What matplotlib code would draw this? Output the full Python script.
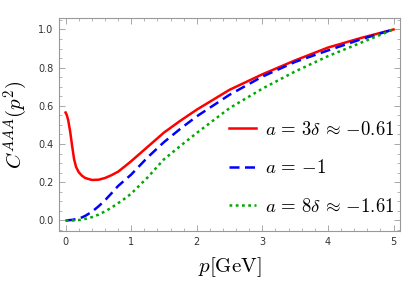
import matplotlib
matplotlib.use("Agg")
import matplotlib.pyplot as plt
from matplotlib.ticker import MultipleLocator

plt.rcParams["mathtext.fontset"] = "cm"

# momentum grid (GeV)
p = [0.0, 0.02, 0.04, 0.07, 0.1, 0.13, 0.16, 0.2, 0.25, 0.3, 0.4, 0.5, 0.6,
     0.7, 0.8, 0.9, 1.0, 1.25, 1.5, 1.75, 2.0, 2.5, 3.0, 3.5, 4.0, 4.5, 5.0]

# C^AAA(p^2) for the three values of a
c_red = [0.565, 0.55, 0.525, 0.465, 0.39, 0.32, 0.28, 0.253, 0.234, 0.222,
         0.212, 0.213, 0.222, 0.237, 0.255, 0.282, 0.31, 0.385, 0.46, 0.522,
         0.58, 0.684, 0.765, 0.838, 0.905, 0.955, 1.0]
c_blue = [0.0, 0.0, 0.001, 0.002, 0.003, 0.005, 0.007, 0.01, 0.016, 0.024,
          0.045, 0.073, 0.105, 0.142, 0.18, 0.21, 0.24, 0.33, 0.41, 0.48,
          0.545, 0.658, 0.753, 0.83, 0.89, 0.948, 1.0]
c_green = [0.0, 0.0, 0.0, 0.0, 0.0, 0.0, 0.001, 0.002, 0.004, 0.008, 0.017,
           0.03, 0.047, 0.067, 0.09, 0.114, 0.14, 0.225, 0.32, 0.39, 0.458,
           0.588, 0.69, 0.78, 0.86, 0.93, 1.0]

labels = [r"$a\,=\,3\delta\,\approx\,{-}0.61$", r"$a\,=\,{-}1$",
          r"$a\,=\,8\delta\,\approx\,{-}1.61$"]

fig = plt.figure(figsize=(4.07, 2.90), dpi=100)
ax = fig.add_axes([0.145, 0.203, 0.838, 0.735])

ax.plot(p, c_red, color="#ff0000", lw=1.8, label=labels[0])
ax.plot(p, c_blue, color="#0000ff", lw=1.8, ls=(0, (4, 2.2)), label=labels[1])
ax.plot(p, c_green, color="#00aa00", lw=1.8, ls=(0, (1.1, 1.4)), label=labels[2])

ax.set_xlim(-0.1, 5.1)
ax.set_ylim(-0.056, 1.06)

ax.xaxis.set_major_locator(MultipleLocator(1))
ax.xaxis.set_minor_locator(MultipleLocator(0.2))
ax.yaxis.set_minor_locator(MultipleLocator(0.05))
ax.set_yticks([0, 0.2, 0.4, 0.6, 0.8, 1.0])
ax.set_yticklabels(["0.0", "0.2", "0.4", "0.6", "0.8", "1.0"])

gray = "#999999"
for s in ax.spines.values():
    s.set_color(gray)
    s.set_linewidth(0.8)
ax.tick_params(which="both", direction="in", top=True, right=True,
               color=gray, labelsize=7, labelcolor="#333333", pad=4)
ax.tick_params(which="major", length=4, width=0.6)
ax.tick_params(which="minor", length=2, width=0.5)

ax.set_xlabel(r"$p[\mathrm{GeV}]$", fontsize=15, labelpad=6)
ax.set_ylabel(r"$C^{AAA}(p^2)$", fontsize=15, labelpad=6)

ax.legend(loc="lower right", bbox_to_anchor=(1.0, 0.045), frameon=False,
          fontsize=13.5, handlelength=1.45, handletextpad=0.5, labelspacing=1.05,
          borderaxespad=0.2, borderpad=0.1)

plt.savefig("out.png", dpi=100)
